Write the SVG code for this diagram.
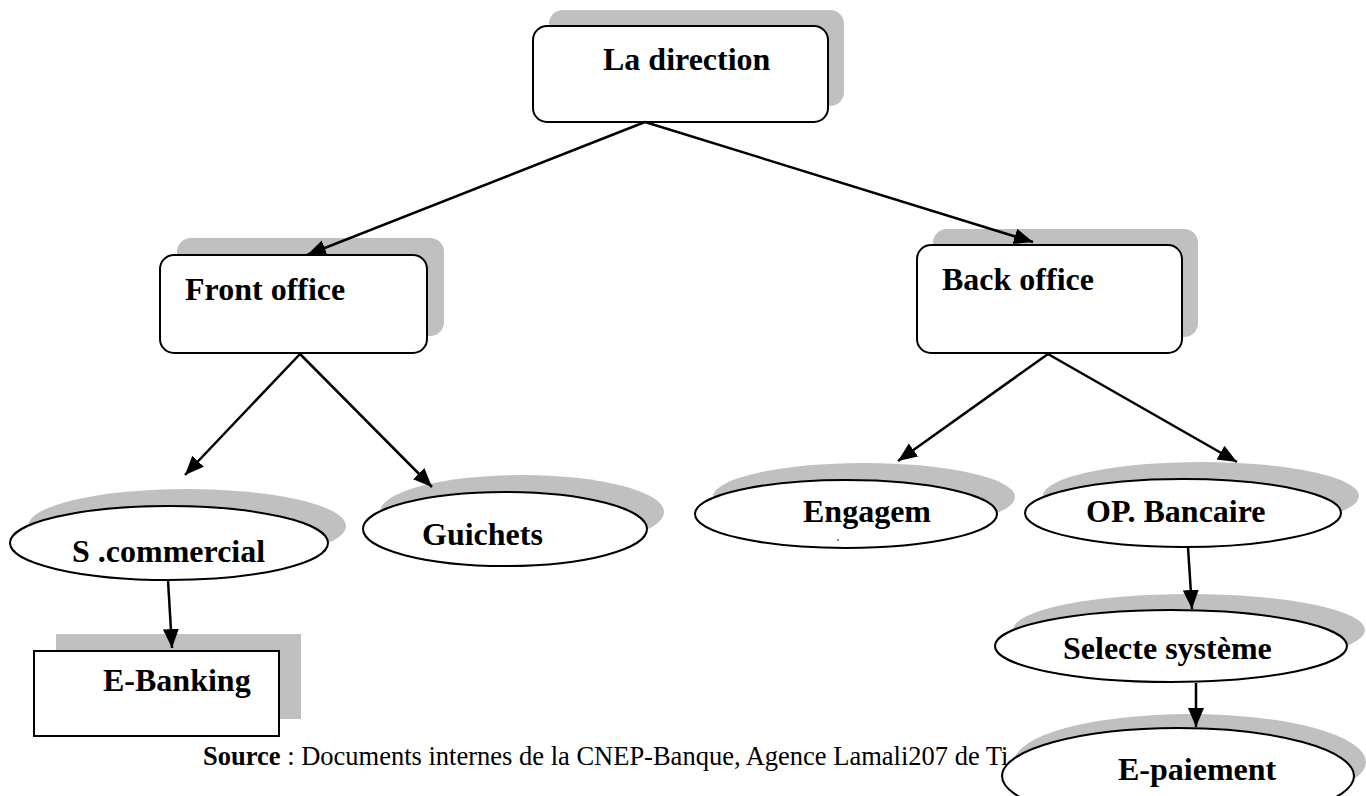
<svg xmlns="http://www.w3.org/2000/svg" width="1366" height="796" viewBox="0 0 1366 796">
<defs>
<marker id="ah" markerUnits="userSpaceOnUse" markerWidth="22" markerHeight="18" refX="19" refY="9" orient="auto">
<path d="M0,1 L19,9 L0,17 Z" fill="#000"/>
</marker>
</defs>
<style>
.sh{fill:#c0c0c0;stroke:none}
.bx{fill:#fff;stroke:#000;stroke-width:2}
.t{font-family:"Liberation Serif","Times New Roman",serif;font-weight:bold;font-size:32px;fill:#000}
.src{font-family:"Liberation Serif","Times New Roman",serif;font-size:26.5px;fill:#000}
.ln{stroke:#000;stroke-width:2.5;fill:none;marker-end:url(#ah)}
</style>
<rect width="1366" height="796" fill="#fff"/>
<text class="src" x="203" y="765"><tspan font-weight="bold">Source</tspan> : Documents internes de la CNEP-Banque, Agence Lamali207 de Ti</text>
<g id="la-direction">
<rect class="sh" x="549" y="10" width="295" height="96" rx="14"/>
<rect class="bx" x="533" y="26" width="295" height="96" rx="14"/>
<text class="t" x="603" y="70">La direction</text>
</g>
<g id="front-office">
<rect class="sh" x="177" y="238" width="267" height="98" rx="14"/>
<rect class="bx" x="160" y="255" width="267" height="98" rx="14"/>
<text class="t" x="185" y="300">Front office</text>
</g>
<g id="back-office">
<rect class="sh" x="933" y="229" width="265" height="108" rx="14"/>
<rect class="bx" x="917" y="245" width="265" height="108" rx="14"/>
<text class="t" x="942" y="290">Back office</text>
</g>
<g id="s-commercial">
<ellipse class="sh" cx="187" cy="526" rx="159" ry="37"/>
<ellipse class="bx" cx="169" cy="543" rx="159" ry="37"/>
<text class="t" x="72" y="562">S .commercial</text>
</g>
<g id="guichets">
<ellipse class="sh" cx="522" cy="512" rx="142" ry="37"/>
<ellipse class="bx" cx="505" cy="529" rx="142" ry="37"/>
<text class="t" x="422" y="545">Guichets</text>
</g>
<g id="engagem">
<ellipse class="sh" cx="864" cy="497" rx="151" ry="34"/>
<ellipse class="bx" cx="846" cy="514" rx="151" ry="34"/>
<text class="t" x="803" y="522">Engagem</text>
<circle cx="838" cy="540" r="0.9" fill="#555"/>
</g>
<g id="op-bancaire">
<ellipse class="sh" cx="1201" cy="496" rx="158" ry="34"/>
<ellipse class="bx" cx="1183" cy="513" rx="158" ry="34"/>
<text class="t" x="1086" y="522">OP. Bancaire</text>
</g>
<g id="selecte-systeme">
<ellipse class="sh" cx="1189" cy="630" rx="176" ry="36"/>
<ellipse class="bx" cx="1171" cy="646" rx="176" ry="36"/>
<text class="t" x="1063" y="659">Selecte système</text>
</g>
<g id="e-paiement">
<ellipse class="sh" cx="1190" cy="762" rx="176" ry="48"/>
<ellipse class="bx" cx="1178" cy="776" rx="176" ry="48"/>
<text class="t" x="1118" y="780">E-paiement</text>
</g>
<g id="e-banking">
<rect class="sh" x="56" y="634" width="245" height="85"/>
<rect class="bx" x="34" y="651" width="245" height="85"/>
<text class="t" x="103" y="691">E-Banking</text>
</g>
<g id="connectors">
<line class="ln" x1="645" y1="122" x2="307" y2="255"/>
<line class="ln" x1="645" y1="122" x2="1033" y2="242"/>
<line class="ln" x1="300" y1="354" x2="185" y2="475"/>
<line class="ln" x1="300" y1="354" x2="432" y2="487"/>
<line class="ln" x1="1048" y1="354" x2="898" y2="461"/>
<line class="ln" x1="1048" y1="354" x2="1237" y2="462"/>
<line class="ln" x1="1188" y1="547" x2="1192" y2="609"/>
<line class="ln" x1="168" y1="580" x2="172" y2="648"/>
<line class="ln" x1="1196" y1="683" x2="1196" y2="727"/>
</g>
</svg>
